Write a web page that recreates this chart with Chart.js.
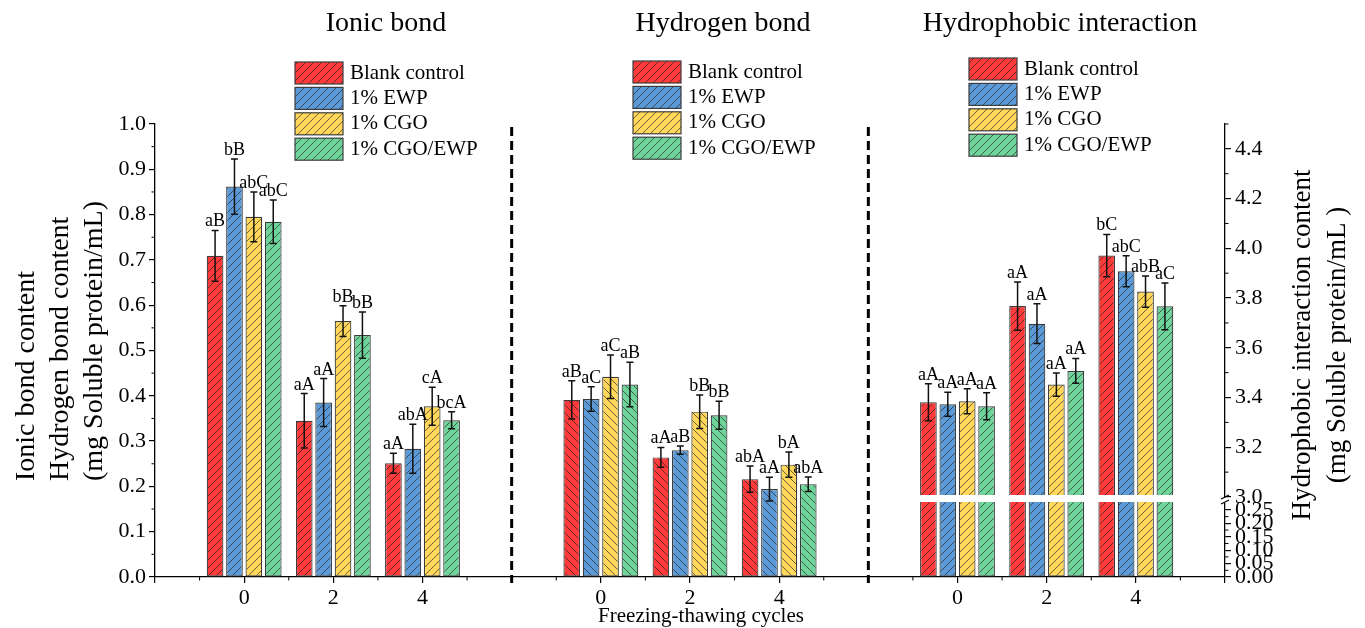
<!DOCTYPE html>
<html>
<head>
<meta charset="utf-8">
<title>Ionic, hydrogen and hydrophobic bonds</title>
<script src="https://cdn.jsdelivr.net/npm/chart.js@4.4.0/dist/chart.umd.min.js"></script>
<style>
  html, body { margin: 0; padding: 0; background: #fff; }
  #wrap { position: relative; width: 1365px; height: 628px; }
</style>
</head>
<body>
<div id="wrap"><canvas id="bondChart" width="1365" height="628"></canvas></div>
<script>
// ---- values ----
const groups = ['Blank control', '1% EWP', '1% CGO', '1% CGO/EWP'];
const panelTitles = ['Ionic bond', 'Hydrogen bond', 'Hydrophobic interaction'];
const xLabels = ['', '0', '2', '4', '', '0', '2', '4', '', '0', '2', '4', ''];

// one row per group, one column per cycle (0, 2, 4)
const ionicMean = [
  [0.709, 0.345, 0.251],
  [0.862, 0.385, 0.283],
  [0.795, 0.565, 0.377],
  [0.784, 0.534, 0.346]
];
const ionicErr = [
  [0.056, 0.060, 0.022],
  [0.061, 0.053, 0.054],
  [0.055, 0.034, 0.042],
  [0.048, 0.051, 0.019]
];
const ionicLetters = [
  ['aB', 'aA', 'aA'],
  ['bB', 'aA', 'abA'],
  ['abC', 'bB', 'cA'],
  ['abC', 'bB', 'bcA']
];

const hydrogenMean = [
  [0.391, 0.264, 0.216],
  [0.393, 0.280, 0.194],
  [0.442, 0.365, 0.248],
  [0.425, 0.357, 0.205]
];
const hydrogenErr = [
  [0.042, 0.022, 0.029],
  [0.027, 0.009, 0.026],
  [0.048, 0.037, 0.028],
  [0.049, 0.031, 0.016]
];
const hydrogenLetters = [
  ['aB', 'aA', 'abA'],
  ['aC', 'aB', 'aA'],
  ['aC', 'bB', 'bA'],
  ['aB', 'bB', 'abA']
];

const hydrophobicMean = [
  [3.381, 3.768, 3.971],
  [3.373, 3.697, 3.908],
  [3.385, 3.452, 3.826],
  [3.365, 3.507, 3.767]
];
const hydrophobicErr = [
  [0.074, 0.097, 0.085],
  [0.048, 0.080, 0.062],
  [0.050, 0.047, 0.063],
  [0.054, 0.050, 0.094]
];
const hydrophobicLetters = [
  ['aA', 'aA', 'bC'],
  ['aA', 'aA', 'abC'],
  ['aA', 'aA', 'abB'],
  ['aA', 'aA', 'aC']
];

const leftTicks = [0, 0.1, 0.2, 0.3, 0.4, 0.5, 0.6, 0.7, 0.8, 0.9, 1.0];
const rightLowTicks = [0, 0.05, 0.10, 0.15, 0.20, 0.25];
const rightHighTicks = [3.0, 3.2, 3.4, 3.6, 3.8, 4.0, 4.2, 4.4];

// ---- look ----
const FONT = "'Liberation Serif', 'Times New Roman', serif";
const colors = ['#ff3a3a', '#5b9ad6', '#ffd75a', '#6ed49a'];
const panelStart = [1, 5, 9]; // category index of cycle 0 in each panel

Chart.defaults.font.family = FONT;
Chart.defaults.color = '#000';

function hatch(color, forward) {
  const s = 8;
  const c = document.createElement('canvas');
  c.width = c.height = s;
  const g = c.getContext('2d');
  g.fillStyle = color;
  g.fillRect(0, 0, s, s);
  g.strokeStyle = 'rgba(30,30,30,0.8)';
  g.lineWidth = 0.8;
  g.beginPath();
  if (forward) {
    g.moveTo(0, s); g.lineTo(s, 0);
    g.moveTo(-s / 2, s / 2); g.lineTo(s / 2, -s / 2);
    g.moveTo(s / 2, s * 1.5); g.lineTo(s * 1.5, s / 2);
  } else {
    g.moveTo(0, 0); g.lineTo(s, s);
    g.moveTo(-s / 2, s / 2); g.lineTo(s / 2, s * 1.5);
    g.moveTo(s / 2, -s / 2); g.lineTo(s * 1.5, s / 2);
  }
  g.stroke();
  return g.createPattern(c, 'repeat');
}
const fwd = colors.map(c => hatch(c, true));
const back = colors.map(c => hatch(c, false));

// ---- right axis with a break between 0.25 and 3.0 ----
const LOW_TOP = 0.25, HIGH_BOT = 3.0, HIGH_TOP = 4.5;
const F_LOW = 0.148, F_HIGH = 0.1766;

class BrokenScale extends Chart.LinearScale {
  determineDataLimits() {
    this.min = 0;
    this.max = HIGH_TOP;
  }
  buildTicks() {
    return rightLowTicks.concat(rightHighTicks).map(v => ({ value: v }));
  }
  toDecimal(v) {
    if (v <= LOW_TOP) return v / LOW_TOP * F_LOW;
    if (v < HIGH_BOT) return F_LOW + (v - LOW_TOP) / (HIGH_BOT - LOW_TOP) * (F_HIGH - F_LOW);
    return F_HIGH + (v - HIGH_BOT) / (HIGH_TOP - HIGH_BOT) * (1 - F_HIGH);
  }
  getPixelForValue(v) {
    if (v === null || v === undefined || isNaN(v)) return NaN;
    return this.getPixelForDecimal(this.toDecimal(v));
  }
  getValueForPixel(p) {
    const d = this.getDecimalForPixel(p);
    if (d <= F_LOW) return d / F_LOW * LOW_TOP;
    if (d < F_HIGH) return LOW_TOP + (d - F_LOW) / (F_HIGH - F_LOW) * (HIGH_BOT - LOW_TOP);
    return HIGH_BOT + (d - F_HIGH) / (1 - F_HIGH) * (HIGH_TOP - HIGH_BOT);
  }
}
BrokenScale.id = 'broken';
BrokenScale.defaults = Chart.LinearScale.defaults;
Chart.register(BrokenScale);

// ---- datasets ----
function spread(rows, g, panels) {
  const out = xLabels.map(() => null);
  panels.forEach(p => rows[p][g].forEach((v, c) => { out[panelStart[p] + c] = v; }));
  return out;
}

const datasets = [];
groups.forEach((name, g) => {
  const leftRows = { 0: ionicMean, 1: hydrogenMean };
  const leftErr = { 0: ionicErr, 1: hydrogenErr };
  const leftLet = { 0: ionicLetters, 1: hydrogenLetters };
  datasets.push({
    label: name,
    yAxisID: 'y',
    data: spread(leftRows, g, [0, 1]),
    errors: spread(leftErr, g, [0, 1]),
    letters: spread(leftLet, g, [0, 1]),
    backgroundColor: ctx => (ctx.dataIndex > 4 && ctx.dataIndex < 8) ? back[g] : fwd[g],
    borderColor: '#3c3c3c',
    borderWidth: 1.2,
    borderSkipped: false
  });
});
groups.forEach((name, g) => {
  datasets.push({
    label: name,
    yAxisID: 'y2',
    data: spread({ 2: hydrophobicMean }, g, [2]),
    errors: spread({ 2: hydrophobicErr }, g, [2]),
    letters: spread({ 2: hydrophobicLetters }, g, [2]),
    backgroundColor: fwd[g],
    borderColor: '#3c3c3c',
    borderWidth: 1.2,
    borderSkipped: false
  });
});

// ---- drawing of error bars, letters, legends and titles ----
const decor = {
  id: 'decor',
  afterDatasetsDraw(chart) {
    const { ctx, chartArea, scales } = chart;
    const x = scales.x, y2 = scales.y2;

    // white gap across the hydrophobic bars at the axis break
    const yb = y2.getPixelForValue(HIGH_BOT);
    ctx.save();
    ctx.fillStyle = '#fff';
    ctx.fillRect(x.getPixelForValue(8) + 4, yb - 2, chartArea.right - x.getPixelForValue(8) - 6, 7);
    ctx.restore();

    ctx.save();
    ctx.strokeStyle = '#111';
    ctx.lineWidth = 1.5;
    ctx.fillStyle = '#000';
    ctx.font = '18px ' + FONT;
    ctx.textAlign = 'center';
    ctx.textBaseline = 'alphabetic';
    chart.data.datasets.forEach((ds, di) => {
      const meta = chart.getDatasetMeta(di);
      const sc = scales[ds.yAxisID];
      meta.data.forEach((bar, i) => {
        const v = ds.data[i];
        if (v === null) return;
        const e = ds.errors[i];
        const top = sc.getPixelForValue(v + e);
        const bot = sc.getPixelForValue(v - e);
        ctx.beginPath();
        ctx.moveTo(bar.x, top); ctx.lineTo(bar.x, bot);
        ctx.moveTo(bar.x - 3.5, top); ctx.lineTo(bar.x + 3.5, top);
        ctx.moveTo(bar.x - 3.5, bot); ctx.lineTo(bar.x + 3.5, bot);
        ctx.stroke();
        ctx.fillText(ds.letters[i], bar.x, top - 4);
      });
    });
    ctx.restore();
  },
  afterDraw(chart) {
    const { ctx, chartArea, scales } = chart;
    const x = scales.x, y = scales.y, y2 = scales.y2;
    ctx.save();

    // dashed separators between panels
    ctx.strokeStyle = '#000';
    ctx.lineWidth = 3;
    ctx.setLineDash([9, 5]);
    [4, 8].forEach(i => {
      const px = x.getPixelForValue(i);
      ctx.beginPath();
      ctx.moveTo(px, chartArea.top + 3);
      ctx.lineTo(px, chartArea.bottom + 6);
      ctx.stroke();
    });
    ctx.setLineDash([]);

    // minor ticks
    ctx.lineWidth = 1;
    ctx.beginPath();
    for (let i = 0; i < xLabels.length - 1; i++) {
      const px = (x.getPixelForValue(i) + x.getPixelForValue(i + 1)) / 2;
      ctx.moveTo(px, chartArea.bottom); ctx.lineTo(px, chartArea.bottom + 3.5);
    }
    for (let i = 0; i < leftTicks.length - 1; i++) {
      const py = y.getPixelForValue((leftTicks[i] + leftTicks[i + 1]) / 2);
      ctx.moveTo(chartArea.left, py); ctx.lineTo(chartArea.left - 3.5, py);
    }
    for (let i = 0; i < rightHighTicks.length; i++) {
      const py = y2.getPixelForValue(rightHighTicks[i] + 0.1);
      ctx.moveTo(chartArea.right, py); ctx.lineTo(chartArea.right + 3.5, py);
    }
    for (let i = 0; i < rightLowTicks.length - 1; i++) {
      const py = y2.getPixelForValue(rightLowTicks[i] + 0.025);
      ctx.moveTo(chartArea.right, py); ctx.lineTo(chartArea.right + 3.5, py);
    }
    ctx.stroke();

    // break marks on the right axis
    const yb = y2.getPixelForValue(HIGH_BOT);
    ctx.fillStyle = '#fff';
    ctx.fillRect(chartArea.right - 2, yb + 1, 4, 5);
    ctx.lineWidth = 1.2;
    ctx.beginPath();
    ctx.moveTo(chartArea.right - 4, yb + 2); ctx.lineTo(chartArea.right + 4, yb - 2);
    ctx.moveTo(chartArea.right - 4, yb + 7); ctx.lineTo(chartArea.right + 4, yb + 3);
    ctx.stroke();

    // panel titles
    ctx.fillStyle = '#000';
    ctx.font = '28px ' + FONT;
    ctx.textAlign = 'center';
    ctx.textBaseline = 'middle';
    const titleX = [386, 723, 1060];
    panelTitles.forEach((t, p) => ctx.fillText(t, titleX[p], 24));

    // legends
    const legX = [295, 633, 969];
    const legY = [62, 61, 58];
    ctx.font = '21px ' + FONT;
    ctx.textAlign = 'left';
    legX.forEach((lx, p) => {
      groups.forEach((name, g) => {
        const ty = legY[p] + g * 25.4;
        ctx.fillStyle = fwd[g];
        ctx.fillRect(lx, ty, 48, 22);
        ctx.strokeStyle = '#3c3c3c';
        ctx.lineWidth = 1.2;
        ctx.strokeRect(lx, ty, 48, 22);
        ctx.fillStyle = '#000';
        ctx.fillText(name, lx + 55, ty + 11);
      });
    });

    // axis titles
    ctx.font = '21px ' + FONT;
    ctx.textAlign = 'center';
    ctx.fillText('Freezing-thawing cycles', 701, 616);

    ctx.font = '28px ' + FONT;
    ctx.save();
    ctx.translate(0, 481);
    ctx.rotate(-Math.PI / 2);
    ctx.textAlign = 'left';
    ['Ionic bond content', 'Hydrogen bond content', '(mg Soluble protein/mL)']
      .forEach((t, i) => ctx.fillText(t, 0, 27 + i * 34));
    ctx.restore();

    ctx.font = '27px ' + FONT;
    ctx.save();
    ctx.translate(0, 345);
    ctx.rotate(-Math.PI / 2);
    ctx.textAlign = 'center';
    ctx.fillText('Hydrophobic interaction content', 0, 1303);
    ctx.fillText('(mg Soluble protein/mL )', 0, 1338);
    ctx.restore();

    ctx.restore();
  }
};

const axisLine = { color: '#000', width: 1.3 };
const tickGrid = { drawOnChartArea: false, drawTicks: true, tickLength: 6, color: '#000', lineWidth: 1.2 };

new Chart(document.getElementById('bondChart'), {
  type: 'bar',
  data: { labels: xLabels, datasets: datasets },
  options: {
    responsive: false,
    animation: false,
    skipNull: true,
    categoryPercentage: 0.87,
    barPercentage: 0.86,
    layout: { padding: { top: 124, left: 0, right: 0, bottom: 0 } },
    plugins: { legend: { display: false }, tooltip: { enabled: false } },
    scales: {
      x: {
        type: 'category',
        offset: false,
        grid: Object.assign({ offset: false }, tickGrid),
        border: axisLine,
        ticks: { autoSkip: false, maxRotation: 0, padding: 2, font: { size: 22 } },
        afterFit: s => { s.height = 51; }
      },
      y: {
        position: 'left',
        min: 0,
        max: 1,
        afterBuildTicks: s => { s.ticks = leftTicks.map(v => ({ value: v })); },
        grid: tickGrid,
        border: axisLine,
        ticks: { autoSkip: false, padding: 3, font: { size: 22 }, callback: v => v.toFixed(1) },
        afterFit: s => { s.width = 155; }
      },
      y2: {
        type: 'broken',
        position: 'right',
        grid: tickGrid,
        border: axisLine,
        ticks: { autoSkip: false, padding: 4, font: { size: 22 },
                 callback: v => v < 1 ? v.toFixed(2) : v.toFixed(1) },
        afterFit: s => { s.width = 140; }
      }
    }
  },
  plugins: [decor]
});
</script>
</body>
</html>
